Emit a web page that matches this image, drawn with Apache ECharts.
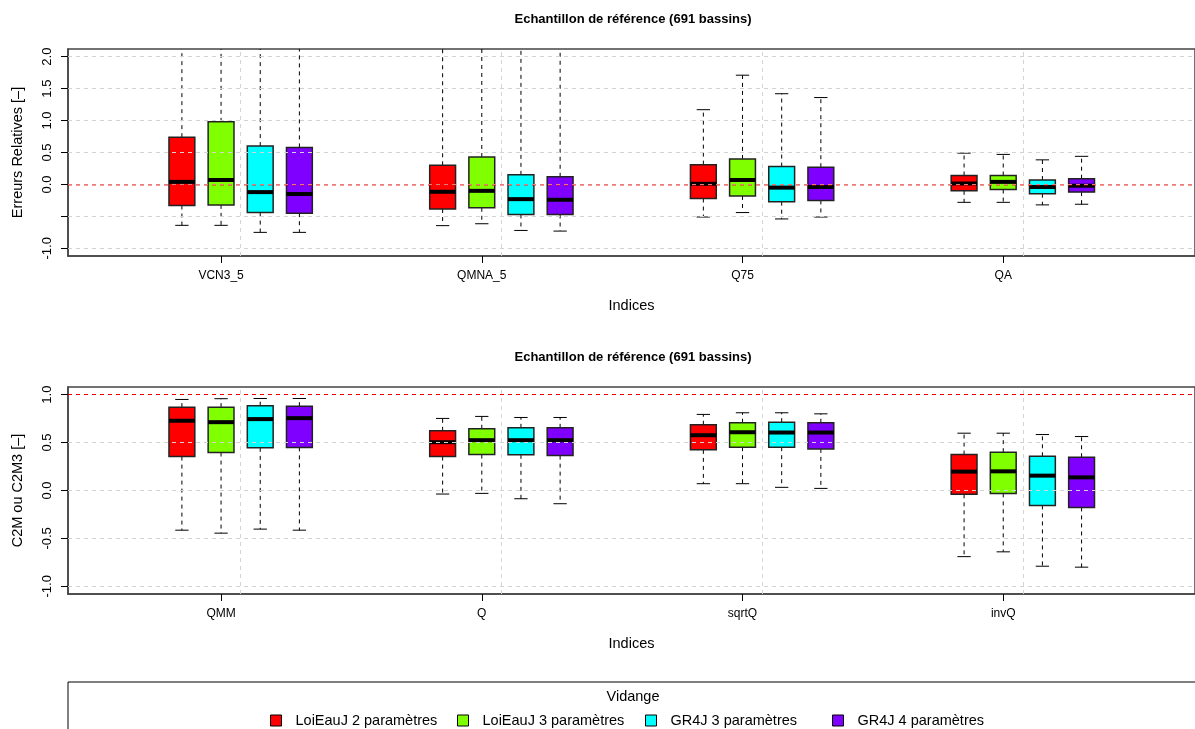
<!DOCTYPE html>
<html>
<head>
<meta charset="utf-8">
<script src="https://cdn.jsdelivr.net/npm/echarts@6/dist/echarts.min.js"></script>
<style>html,body{margin:0;padding:0;background:#fff;}#c{width:1195px;height:729px;}</style>
</head>
<body>
<div id="c"></div>
<script>
// ---------- DATA ----------
const categoriesTop = ['VCN3_5', 'QMNA_5', 'Q75', 'QA'];
const categoriesBottom = ['QMM', 'Q', 'sqrtQ', 'invQ'];
const models = ['LoiEauJ 2 paramètres', 'LoiEauJ 3 paramètres', 'GR4J 3 paramètres', 'GR4J 4 paramètres'];
const modelColors = ['#FF0000', '#80FF00', '#00FFFF', '#8000FF'];
const yTicksTop = [-1, -0.5, 0, 0.5, 1, 1.5, 2];
const yLabelsTop = [-1, 0, 0.5, 1, 1.5, 2];
const yTicksBottom = [-1, -0.5, 0, 0.5, 1];

// [lower whisker, Q1, median, Q3, upper whisker] per category
const top_LoiEauJ2 = [[-0.64, -0.33, 0.04, 0.74, 2.6], [-0.645, -0.385, -0.115, 0.30, 2.4], [-0.51, -0.22, 0.01, 0.31, 1.17], [-0.28, -0.10, 0.015, 0.14, 0.49]];
const top_LoiEauJ3 = [[-0.64, -0.32, 0.07, 0.98, 2.9], [-0.615, -0.365, -0.10, 0.43, 2.6], [-0.44, -0.18, 0.07, 0.40, 1.71], [-0.28, -0.08, 0.04, 0.14, 0.47]];
const top_GR4J3 = [[-0.75, -0.44, -0.12, 0.60, 2.5], [-0.72, -0.47, -0.23, 0.15, 2.3], [-0.54, -0.27, -0.05, 0.28, 1.42], [-0.32, -0.145, -0.04, 0.07, 0.385]];
const top_GR4J4 = [[-0.75, -0.45, -0.15, 0.58, 2.5], [-0.73, -0.47, -0.24, 0.12, 2.3], [-0.51, -0.25, -0.04, 0.27, 1.36], [-0.31, -0.12, -0.02, 0.09, 0.44]];

const bot_LoiEauJ2 = [[-0.414, 0.354, 0.728, 0.87, 0.95], [-0.037, 0.354, 0.504, 0.623, 0.752], [0.071, 0.424, 0.577, 0.686, 0.794], [-0.69, -0.04, 0.197, 0.375, 0.598]];
const bot_LoiEauJ3 = [[-0.445, 0.396, 0.713, 0.87, 0.958], [-0.03, 0.375, 0.525, 0.644, 0.773], [0.071, 0.452, 0.608, 0.707, 0.811], [-0.64, -0.03, 0.20, 0.40, 0.598]];
const bot_GR4J3 = [[-0.403, 0.445, 0.745, 0.885, 0.96], [-0.086, 0.372, 0.525, 0.654, 0.762], [0.033, 0.452, 0.605, 0.713, 0.811], [-0.79, -0.156, 0.155, 0.357, 0.584]];
const bot_GR4J4 = [[-0.414, 0.45, 0.755, 0.88, 0.96], [-0.138, 0.364, 0.525, 0.654, 0.762], [0.022, 0.434, 0.605, 0.707, 0.80], [-0.80, -0.177, 0.137, 0.347, 0.563]];

// ---------- LAYOUT ----------
const FIRST = 2.908, GROUP_STEP = 6.657, X_MAX = 28.775, BOX_W = 0.66, CAP_W = 0.34;
const pos = (g, k) => FIRST + g * GROUP_STEP + k;
const FONT = '"Liberation Sans", Arial, sans-serif';
const tickPos = [0, 1, 2, 3].map(g => pos(g, 1));
const vGrid = [0, 1, 2, 3].map(g => pos(g, 1.5));

function renderBox(params, api) {
  const x = api.value(0);
  const cs = params.coordSys;
  const top = cs.y, bottom = cs.y + cs.height;
  const clampY = y => Math.max(top, Math.min(bottom, y));
  const pLo = api.coord([x, api.value(1)]);
  const pQ1 = api.coord([x, api.value(2)]);
  const pMed = api.coord([x, api.value(3)]);
  const pQ3 = api.coord([x, api.value(4)]);
  const pHi = api.coord([x, api.value(5)]);
  const hw = api.size([BOX_W, 0])[0] / 2;
  const cw = api.size([CAP_W, 0])[0] / 2;
  const px = pMed[0];
  const dash = {stroke: '#000', lineWidth: 1, lineDash: [4, 4]};
  const solid = {stroke: '#000', lineWidth: 1};
  const children = [
    {type: 'line', shape: {x1: px, y1: pQ3[1], x2: px, y2: clampY(pHi[1])}, style: dash},
    {type: 'line', shape: {x1: px, y1: pQ1[1], x2: px, y2: clampY(pLo[1])}, style: dash}
  ];
  if (pHi[1] >= top) children.push({type: 'line', shape: {x1: px - cw, y1: pHi[1], x2: px + cw, y2: pHi[1]}, style: solid});
  if (pLo[1] <= bottom) children.push({type: 'line', shape: {x1: px - cw, y1: pLo[1], x2: px + cw, y2: pLo[1]}, style: solid});
  children.push({type: 'rect', shape: {x: px - hw, y: pQ3[1], width: 2 * hw, height: pQ1[1] - pQ3[1]},
    style: {fill: api.visual('color'), stroke: '#222', lineWidth: 1.5}});
  children.push({type: 'line', shape: {x1: px - hw, y1: pMed[1], x2: px + hw, y2: pMed[1]}, style: {stroke: '#000', lineWidth: 4}});
  return {type: 'group', children};
}

const topSets = [top_LoiEauJ2, top_LoiEauJ3, top_GR4J3, top_GR4J4];
const botSets = [bot_LoiEauJ2, bot_LoiEauJ3, bot_GR4J3, bot_GR4J4];

const series = [];
[topSets, botSets].forEach((sets, panel) => {
  sets.forEach((vals, k) => {
    series.push({
      type: 'custom', name: models[k], xAxisIndex: panel, yAxisIndex: panel,
      itemStyle: {color: modelColors[k]},
      encode: {x: 0, y: [1, 2, 3, 4, 5]},
      data: vals.map((v, g) => [pos(g, k)].concat(v)),
      renderItem: renderBox, silent: true, animation: false, z: 2
    });
  });
});

const gridLine = {color: '#d3d3d3', type: [4, 4], width: 1};
function overlay(panel, yVals, refLine) {
  const data = [];
  vGrid.forEach(v => data.push({xAxis: v, lineStyle: gridLine}));
  yVals.forEach(v => data.push({yAxis: v, lineStyle: gridLine}));
  data.push(refLine);
  return {
    type: 'line', xAxisIndex: panel, yAxisIndex: panel, data: [], silent: true, z: 10, animation: false,
    markLine: {symbol: ['none', 'none'], silent: true, animation: false, label: {show: false}, data}
  };
}
series.push(overlay(0, yTicksTop, {yAxis: 0, lineStyle: {color: 'rgba(255,0,0,0.55)', type: [4, 4], width: 1.5}}));
series.push(overlay(1, yTicksBottom.filter(v => v !== 1), {yAxis: 1, lineStyle: {color: '#ee0000', type: [4, 4], width: 1}}));

function xAxisOf(panel, cats) {
  return {
    gridIndex: panel, type: 'value', min: 0, max: X_MAX, position: 'bottom',
    axisLine: {show: true, onZero: false, lineStyle: {color: '#444', width: 1.5}},
    axisTick: {show: true, customValues: tickPos, length: 7, lineStyle: {color: '#000'}},
    axisLabel: {customValues: tickPos, margin: 14, fontSize: 12, color: '#000', fontFamily: FONT,
      formatter: v => cats[Math.round((v - FIRST - 1) / GROUP_STEP)]},
    splitLine: {show: false},
    name: 'Indices', nameLocation: 'middle', nameGap: 42,
    nameTextStyle: {fontSize: 14.5, color: '#000', fontFamily: FONT}
  };
}
function yAxisOf(panel, min, max, ticks, labels, name) {
  return {
    gridIndex: panel, type: 'value', min, max, position: 'left',
    axisLine: {show: true, onZero: false, lineStyle: {color: '#444', width: 1.5}},
    axisTick: {show: true, customValues: ticks, length: 7, lineStyle: {color: '#000'}},
    axisLabel: {customValues: labels, rotate: 90, margin: 14, fontSize: 13, color: '#000', fontFamily: FONT,
      formatter: v => Number(v).toFixed(1)},
    splitLine: {show: false},
    name, nameLocation: 'middle', nameGap: 43,
    nameTextStyle: {fontSize: 14.5, color: '#000', fontFamily: FONT}
  };
}

const legendLeft = [270, 457, 645, 832];
const option = {
  backgroundColor: '#fff',
  animation: false,
  textStyle: {fontFamily: FONT},
  title: [
    {text: 'Echantillon de référence (691 bassins)', left: 633, textAlign: 'center', top: 13, padding: 0,
      textStyle: {fontSize: 13, fontWeight: 'bold', color: '#000', fontFamily: FONT}},
    {text: 'Echantillon de référence (691 bassins)', left: 633, textAlign: 'center', top: 351, padding: 0,
      textStyle: {fontSize: 13, fontWeight: 'bold', color: '#000', fontFamily: FONT}}
  ],
  grid: [
    {left: 68, top: 49, width: 1130, height: 207, show: true, borderColor: '#444', borderWidth: 1.5, backgroundColor: 'transparent'},
    {left: 68, top: 387, width: 1130, height: 207, show: true, borderColor: '#444', borderWidth: 1.5, backgroundColor: 'transparent'}
  ],
  xAxis: [xAxisOf(0, categoriesTop), xAxisOf(1, categoriesBottom)],
  yAxis: [
    yAxisOf(0, -1.12, 2.12, yTicksTop, yLabelsTop, 'Erreurs Relatives [–]'),
    yAxisOf(1, -1.08, 1.08, yTicksBottom, yTicksBottom, 'C2M ou C2M3 [–]')
  ],
  legend: models.map((m, i) => ({
    data: [m], left: legendLeft[i], top: 713, padding: 0, icon: 'rect', itemWidth: 11, itemHeight: 11,
    selectedMode: false, itemStyle: {borderColor: '#000', borderWidth: 1},
    textStyle: {fontSize: 14.5, color: '#000', fontFamily: FONT, padding: [0, 0, 0, 9]}
  })),
  graphic: [
    {type: 'rect', shape: {x: 68, y: 682, width: 1140, height: 60}, style: {fill: 'none', stroke: '#000', lineWidth: 1}, silent: true},
    {type: 'text', x: 633, y: 697, style: {text: 'Vidange', fontSize: 14.5, fill: '#000', fontFamily: FONT, textAlign: 'center', textVerticalAlign: 'middle'}, silent: true}
  ],
  series
};
const chart = echarts.init(document.getElementById('c'), null, {renderer: 'canvas'});
chart.setOption(option);
</script>
</body>
</html>
